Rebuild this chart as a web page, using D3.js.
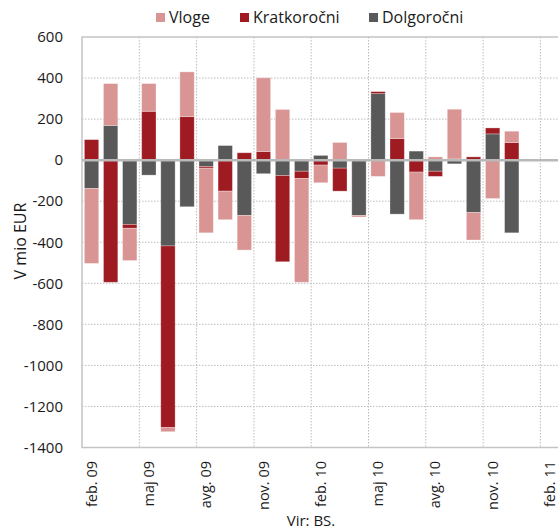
<!DOCTYPE html>
<html>
<head>
<meta charset="utf-8">
<script src="https://cdn.jsdelivr.net/npm/d3@7"></script>
<style>
  body { margin: 0; background: #fff; }
  svg { display: block; font-family: "Open Sans", sans-serif; }
</style>
</head>
<body>
<svg id="chart" width="558" height="532"></svg>
<script>
// months on the axis (feb. 09 .. feb. 11), bars only up to dec. 10
var axisMonths = ["feb. 09","mar. 09","apr. 09","maj 09","jun. 09","jul. 09","avg. 09","sep. 09","okt. 09",
  "nov. 09","dec. 09","jan. 10","feb. 10","mar. 10","apr. 10","maj 10","jun. 10","jul. 10","avg. 10",
  "sep. 10","okt. 10","nov. 10","dec. 10","jan. 11","feb. 11"];
var tickLabels = ["feb. 09","maj 09","avg. 09","nov. 09","feb. 10","maj 10","avg. 10","nov. 10","feb. 11"];

var barMonths = axisMonths.slice(0, 23);
var dolgorocni  = [-138, 169, -313, -73, -418, -227, -31,  71, -269, -66, -75, -54,  23, -39, -269, 324, -263,  44, -54, -18, -255, 128, -354];
var kratkorocni = [ 100, -595, -19, 238, -885, 212,  -8, -151,  36,  42, -420, -35, -24, -112,   0,  10,  105, -58, -25,   6,   16,  29,   86];
var vloge       = [-365, 204, -157, 135,  -20, 218, -315, -139, -169, 359, 247, -506, -86,  86,  -8, -79,  127, -232,  16, 242, -134, -187,  55];

var yTicks = [600, 400, 200, 0, -200, -400, -600, -800, -1000, -1200, -1400];

var series = [
  { key: "Dolgoročni",  color: "#595959", values: dolgorocni },
  { key: "Kratkoročni", color: "#9e1b22", values: kratkorocni },
  { key: "Vloge",       color: "#d99594", values: vloge }
];
var legendOrder = ["Vloge", "Kratkoročni", "Dolgoročni"];

var svg = d3.select("#chart");
var plotL = 82, plotR = 559.5, plotT = 37, plotB = 447.5;

var x = d3.scaleBand().domain(axisMonths).range([plotL, plotR])
  .paddingInner(0.25).paddingOuter(0.125);
var step = (plotR - plotL) / axisMonths.length;
var y = d3.scaleLinear().domain([-1400, 600]).range([plotB, plotT]);

var table = barMonths.map(function(m, i) {
  var row = { month: m };
  series.forEach(function(s) { row[s.key] = s.values[i]; });
  return row;
});
var stacked = d3.stack().keys(series.map(function(s) { return s.key; }))
  .offset(d3.stackOffsetDiverging)(table);

// grid
var grid = svg.append("g");
grid.selectAll("line.h").data(yTicks.filter(function(t) { return t !== 0 && t !== 600 && t !== -1400; }))
  .enter().append("line")
  .attr("x1", plotL).attr("x2", plotR)
  .attr("y1", function(d) { return y(d); }).attr("y2", function(d) { return y(d); })
  .attr("stroke", "#bdbdbd").attr("stroke-dasharray", "1.5,1.5");
grid.selectAll("line.v").data(d3.range(3, axisMonths.length, 3))
  .enter().append("line")
  .attr("x1", function(k) { return plotL + k * step; }).attr("x2", function(k) { return plotL + k * step; })
  .attr("y1", plotT).attr("y2", plotB)
  .attr("stroke", "#bdbdbd").attr("stroke-dasharray", "1.5,1.5");

// frame
svg.append("rect").attr("x", plotL).attr("y", plotT)
  .attr("width", plotR - plotL).attr("height", plotB - plotT)
  .attr("fill", "none").attr("stroke", "#c4c4c4").attr("stroke-width", 1.5);

// bars
var colorOf = {};
series.forEach(function(s) { colorOf[s.key] = s.color; });
svg.append("g").selectAll("g").data(stacked).enter().append("g")
  .attr("fill", function(d) { return colorOf[d.key]; })
  .selectAll("rect").data(function(d) { return d; }).enter().append("rect")
  .attr("x", function(d) { return x(d.data.month); })
  .attr("width", x.bandwidth())
  .attr("y", function(d) { return y(Math.max(d[0], d[1])); })
  .attr("height", function(d) { return Math.abs(y(d[0]) - y(d[1])); })
  .attr("stroke", "#fff").attr("stroke-opacity", 0.35).attr("stroke-width", 0.8);

// zero line
svg.append("line").attr("x1", plotL).attr("x2", plotR)
  .attr("y1", y(0)).attr("y2", y(0))
  .attr("stroke", "#b9b9b9").attr("stroke-width", 2.5);

// y tick labels
svg.append("g").selectAll("text").data(yTicks).enter().append("text")
  .attr("x", 63).attr("y", function(d) { return y(d); })
  .attr("dy", "0.35em").attr("text-anchor", "end")
  .attr("font-size", 15).attr("fill", "#1a1a1a")
  .text(function(d) { return d; });

// x tick labels
svg.append("g").selectAll("text").data(tickLabels).enter().append("text")
  .attr("transform", function(d) {
    return "translate(" + (x(d) + x.bandwidth() / 2) + ",461) rotate(-90)";
  })
  .attr("dy", "0.35em").attr("text-anchor", "end")
  .attr("font-size", 14.5).attr("fill", "#1a1a1a")
  .text(function(d) { return d; });

// axis titles
svg.append("text").attr("transform", "translate(20,241) rotate(-90)")
  .attr("dy", "0.35em").attr("text-anchor", "middle")
  .attr("font-size", 16).attr("fill", "#1a1a1a").text("V mio EUR");
svg.append("text").attr("x", 311).attr("y", 526).attr("text-anchor", "middle")
  .attr("font-size", 15).attr("fill", "#1a1a1a").text("Vir: BS.");

// legend
var legendX = [156, 240, 369];
var legend = svg.append("g").selectAll("g").data(legendOrder).enter().append("g")
  .attr("transform", function(d, i) { return "translate(" + legendX[i] + ",13)"; });
legend.append("rect").attr("width", 9).attr("height", 9)
  .attr("fill", function(d) { return colorOf[d]; });
legend.append("text").attr("x", 13).attr("y", 4.5).attr("dy", "0.35em")
  .attr("font-size", 16).attr("fill", "#1a1a1a").text(function(d) { return d; });
</script>
</body>
</html>
